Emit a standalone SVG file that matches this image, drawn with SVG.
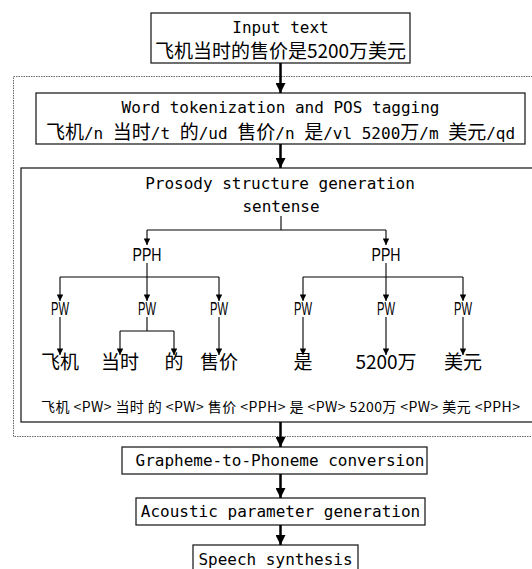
<svg xmlns="http://www.w3.org/2000/svg" width="532" height="569" viewBox="0 0 532 569">
  <defs>
    <marker id="head" viewBox="0 0 10 10" refX="10" refY="5" markerWidth="4" markerHeight="4" orient="auto" markerUnits="strokeWidth">
      <path d="M0,0 L10,5 L0,10 z" fill="#000"/>
    </marker>
    <marker id="headSmall" viewBox="0 0 10 10" refX="10" refY="5" markerWidth="7" markerHeight="6" orient="auto" markerUnits="strokeWidth">
      <path d="M0,0 L10,5 L0,10 z" fill="#000"/>
    </marker>
    <style>
      .box { fill: #fff; stroke: #222; stroke-width: 1.3; }
      .group { fill: none; stroke: #666; stroke-width: 1; stroke-dasharray: 1.5 1; }
      .flow { fill: none; stroke: #000; stroke-width: 2.5; marker-end: url(#head); }
      .tree { fill: none; stroke: #000; stroke-width: 1.1; }
      .treeArrow { fill: none; stroke: #000; stroke-width: 1.1; marker-end: url(#headSmall); }
      text { fill: #000; text-anchor: middle; }
      .mono { font-family: "DejaVu Sans Mono", "Liberation Mono", "Noto Sans CJK SC", monospace; font-size: 16px; }
      .zh { font-family: "Noto Sans CJK SC", sans-serif; font-size: 19px; }
      .tag { font-family: "Liberation Sans", "Noto Sans CJK SC", sans-serif; font-size: 19px; }
      .word { font-family: "Noto Sans CJK SC", sans-serif; font-size: 19px; }
      .seq { font-family: "Noto Sans CJK SC", sans-serif; font-size: 14px; }
    </style>
  </defs>

  <!-- dotted grouping frame around text analysis -->
  <rect class="group" x="13.5" y="76.5" width="530" height="360"/>

  <g id="input">
    <rect class="box" x="151" y="13" width="259" height="50"/>
    <text class="mono" x="280.5" y="33">Input text</text>
    <text class="zh" x="280.5" y="58">飞机当时的售价是5200万美元</text>
  </g>

  <g id="tokenize">
    <rect class="box" x="36" y="93" width="489" height="51"/>
    <text class="mono" x="280.5" y="113">Word tokenization and POS tagging</text>
    <text class="mono" x="280.5" y="139"><tspan class="zh">飞机</tspan>/n <tspan class="zh">当时</tspan>/t <tspan class="zh">的</tspan>/ud <tspan class="zh">售价</tspan>/n <tspan class="zh">是</tspan>/vl 5200<tspan class="zh">万</tspan>/m <tspan class="zh">美元</tspan>/qd</text>
  </g>

  <g id="prosody">
    <rect class="box" x="21" y="168" width="530" height="254"/>
    <text class="mono" x="280" y="189">Prosody structure generation</text>
    <text class="mono" x="281" y="212">sentense</text>

    <g id="tree-labels">
      <text class="tag" x="147" y="261" textLength="29" lengthAdjust="spacingAndGlyphs">PPH</text>
      <text class="tag" x="386" y="261" textLength="29" lengthAdjust="spacingAndGlyphs">PPH</text>
      <text class="tag" x="60" y="315" textLength="18" lengthAdjust="spacingAndGlyphs">PW</text>
      <text class="tag" x="147" y="315" textLength="18" lengthAdjust="spacingAndGlyphs">PW</text>
      <text class="tag" x="219" y="315" textLength="18" lengthAdjust="spacingAndGlyphs">PW</text>
      <text class="tag" x="303" y="315" textLength="18" lengthAdjust="spacingAndGlyphs">PW</text>
      <text class="tag" x="386" y="315" textLength="18" lengthAdjust="spacingAndGlyphs">PW</text>
      <text class="tag" x="463" y="315" textLength="18" lengthAdjust="spacingAndGlyphs">PW</text>
      <text class="word" x="60" y="369">飞机</text>
      <text class="word" x="120" y="369">当时</text>
      <text class="word" x="174" y="369">的</text>
      <text class="word" x="219" y="369">售价</text>
      <text class="word" x="303" y="369">是</text>
      <text class="word" x="386" y="369">5200万</text>
      <text class="word" x="463" y="369">美元</text>
    </g>

    <g id="tree-edges">
      <!-- sentence to phrases -->
      <path class="tree" d="M281,216 V230 M147,230 H386"/>
      <path class="treeArrow" d="M147,230 V245"/>
      <path class="treeArrow" d="M386,230 V245"/>
      <!-- left phrase to words -->
      <path class="tree" d="M60,277 H219"/>
      <path class="treeArrow" d="M147,263 V301"/>
      <path class="treeArrow" d="M60,277 V301"/>
      <path class="treeArrow" d="M219,277 V301"/>
      <!-- right phrase to words -->
      <path class="tree" d="M303,277 H463"/>
      <path class="treeArrow" d="M386,263 V301"/>
      <path class="treeArrow" d="M303,277 V301"/>
      <path class="treeArrow" d="M463,277 V301"/>
      <!-- prosodic words to lexical words -->
      <path class="treeArrow" d="M60,317 V355"/>
      <path class="tree" d="M147,317 V331 M120,331 H174"/>
      <path class="treeArrow" d="M120,331 V355"/>
      <path class="treeArrow" d="M174,331 V355"/>
      <path class="treeArrow" d="M219,317 V355"/>
      <path class="treeArrow" d="M303,317 V355"/>
      <path class="treeArrow" d="M386,317 V355"/>
      <path class="treeArrow" d="M463,317 V355"/>
    </g>

    <text class="seq" x="280.5" y="412" textLength="479" lengthAdjust="spacing">飞机 &lt;PW&gt; 当时 的 &lt;PW&gt; 售价 &lt;PPH&gt; 是 &lt;PW&gt; 5200万 &lt;PW&gt; 美元 &lt;PPH&gt;</text>
  </g>

  <g id="g2p">
    <rect class="box" x="122" y="447" width="305" height="27"/>
    <text class="mono" x="280" y="466">Grapheme-to-Phoneme conversion</text>
  </g>

  <g id="acoustic">
    <rect class="box" x="136" y="498" width="289" height="27"/>
    <text class="mono" x="280.5" y="517">Acoustic parameter generation</text>
  </g>

  <g id="synthesis">
    <rect class="box" x="193" y="545" width="165" height="30"/>
    <text class="mono" x="275.5" y="565">Speech synthesis</text>
  </g>

  <g id="connectors">
    <path class="flow" d="M280.5,63 V93"/>
    <path class="flow" d="M280.5,144 V168"/>
    <path class="flow" d="M280.5,422 V447"/>
    <path class="flow" d="M280.5,474 V498"/>
    <path class="flow" d="M280.5,525 V545"/>
  </g>
</svg>
